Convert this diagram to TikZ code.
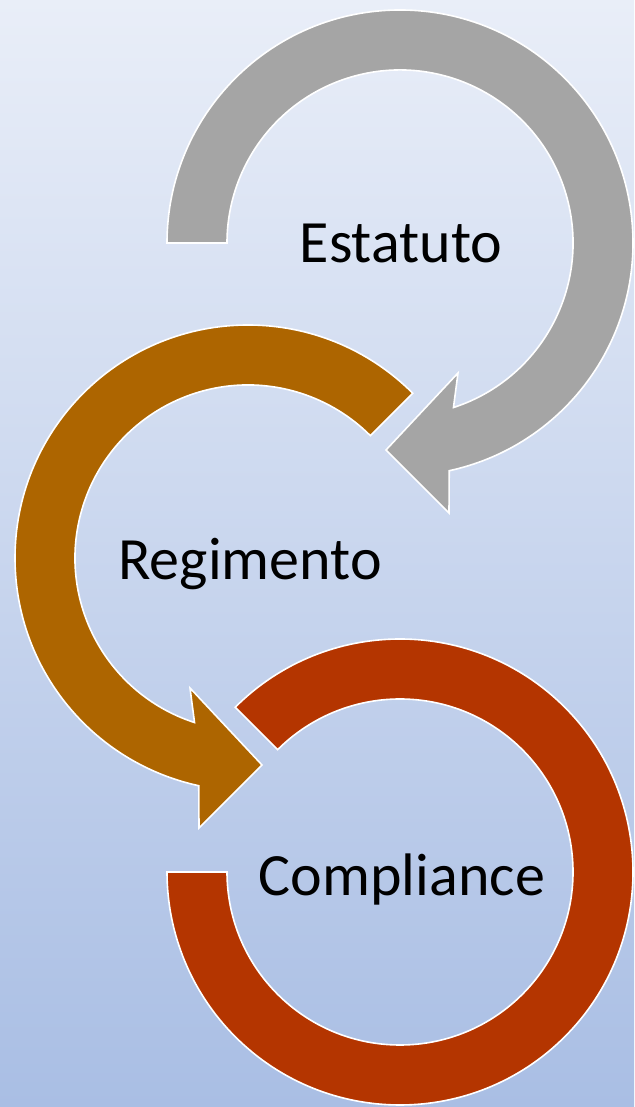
\documentclass[tikz,border=0pt]{standalone}
\usepackage{fontspec}
\setmainfont{Carlito}
\definecolor{bgtop}{RGB}{233,238,248}
\definecolor{bgbot}{RGB}{169,190,228}
\definecolor{graycol}{RGB}{165,165,165}
\definecolor{browncol}{RGB}{173,101,0}
\definecolor{redcol}{RGB}{180,53,0}
\begin{document}
\begin{tikzpicture}[x=1pt,y=1pt,
  ring/.style={draw=white,line width=1.6pt,line join=miter},
  lbl/.style={font=\fontsize{60}{72}\selectfont,anchor=base,text=black,inner sep=0pt}]
\shade[top color=bgtop,bottom color=bgbot] (0,0) rectangle (634,1107);
\useasboundingbox (0,0) rectangle (634,1107);
% centres
\coordinate (g) at (400,864);
\coordinate (b) at (248,549);
\coordinate (r) at (400,235);
% gray arrow (clockwise)
\path[fill=graycol,ring] ([shift={(180:233)}]g) arc[start angle=180,end angle=-77.8,radius=233]
  -- ([shift={(49,-270)}]g) -- ([shift={(-14,-207)}]g) -- ([shift={(58,-130)}]g)
  -- ([shift={(-72:173)}]g) arc[start angle=-72,end angle=180,radius=173] -- cycle;
% brown arrow (counter-clockwise)
\path[fill=browncol,ring] ([shift={(45:233)}]b) arc[start angle=45,end angle=257.8,radius=233]
  -- ([shift={(-49,-270)}]b) -- ([shift={(14,-207)}]b) -- ([shift={(-58,-130)}]b)
  -- ([shift={(252:173)}]b) arc[start angle=252,end angle=45,radius=173] -- cycle;
% red ring
\path[fill=redcol,ring] ([shift={(135:233)}]r) arc[start angle=135,end angle=-180,radius=233]
  -- ([shift={(180:173)}]r) arc[start angle=-180,end angle=135,radius=173] -- cycle;
% labels
\node[lbl] (est) at (401,844) {Estatuto};
\node[lbl] (reg) at (250,527) {Regimento};
\node[lbl] (comp) at (402,211) {Compliance};
\end{tikzpicture}
\end{document}
